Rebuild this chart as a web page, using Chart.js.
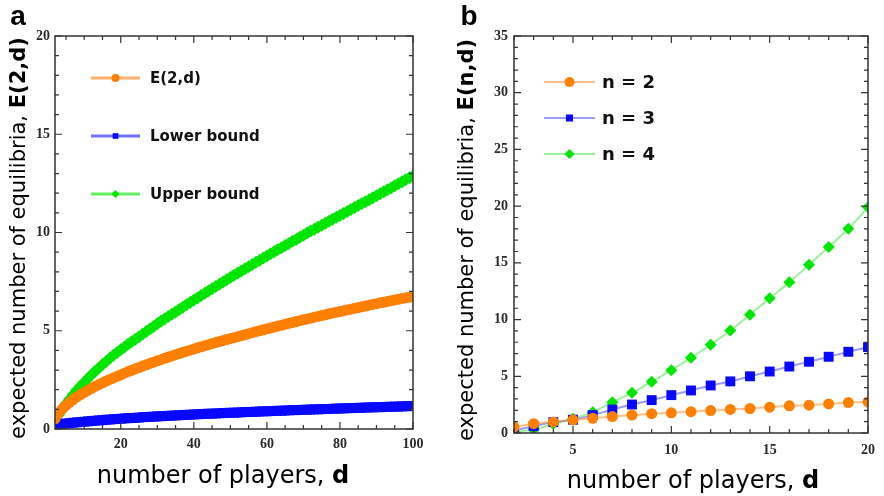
<!DOCTYPE html>
<html>
<head>
<meta charset="utf-8">
<script src="https://cdn.jsdelivr.net/npm/chart.js@4.4.0/dist/chart.umd.min.js"></script>
<style>
    body { margin: 0; background: #fff; }
    #lienzo { position: relative; width: 884px; height: 496px; overflow: hidden; }
    canvas { position: absolute; top: 0; }
    .texto { position: absolute; font-family: 'DejaVu Sans', sans-serif; color: #000; white-space: nowrap; line-height: 1; transform: translate(-50%, -50%); }
    .vertical { transform: translate(-50%, -50%) rotate(-90deg); }
    .letra { font-family: 'Liberation Sans', sans-serif; font-weight: bold; font-size: 28px; }
</style>
</head>
<body>
<div id="lienzo">
    <canvas id="graficoA" width="440" height="496" style="left:0"></canvas>
    <canvas id="graficoB" width="444" height="496" style="left:440px"></canvas>

    <div class="texto letra" style="left:18px; top:16px">a</div>
    <div class="texto letra" style="left:469px; top:16px">b</div>

    <div class="texto vertical" style="left:18px; top:238px; font-size:21px">expected number of equilibria, <b>E(2,d)</b></div>
    <div class="texto vertical" style="left:466px; top:240px; font-size:21px">expected number of equilibria, <b>E(n,d)</b></div>

    <div class="texto" style="left:223px; top:475px; font-size:24px">number of players, <b>d</b></div>
    <div class="texto" style="left:693px; top:480px; font-size:24px">number of players, <b>d</b></div>
</div>

<script>
// =========================================================================
// DATOS PANEL A: E(2,d) y cotas, d = 2..100
// =========================================================================
const jugadoresA = [
    2, 3, 4, 5, 6, 7, 8, 9, 10, 11,
    12, 13, 14, 15, 16, 17, 18, 19, 20, 21,
    22, 23, 24, 25, 26, 27, 28, 29, 30, 31,
    32, 33, 34, 35, 36, 37, 38, 39, 40, 41,
    42, 43, 44, 45, 46, 47, 48, 49, 50, 51,
    52, 53, 54, 55, 56, 57, 58, 59, 60, 61,
    62, 63, 64, 65, 66, 67, 68, 69, 70, 71,
    72, 73, 74, 75, 76, 77, 78, 79, 80, 81,
    82, 83, 84, 85, 86, 87, 88, 89, 90, 91,
    92, 93, 94, 95, 96, 97, 98, 99, 100
];
const valoresE2d = [
    0.52, 0.80, 1.02, 1.20, 1.36, 1.50, 1.63, 1.75, 1.86, 1.97,
    2.07, 2.17, 2.26, 2.35, 2.44, 2.52, 2.60, 2.68, 2.76, 2.84,
    2.92, 2.99, 3.06, 3.13, 3.20, 3.27, 3.34, 3.40, 3.47, 3.53,
    3.60, 3.66, 3.72, 3.78, 3.84, 3.90, 3.96, 4.01, 4.07, 4.13,
    4.18, 4.24, 4.29, 4.35, 4.40, 4.45, 4.50, 4.55, 4.60, 4.65,
    4.70, 4.75, 4.80, 4.85, 4.90, 4.95, 5.00, 5.05, 5.10, 5.14,
    5.19, 5.24, 5.28, 5.33, 5.38, 5.42, 5.47, 5.51, 5.56, 5.60,
    5.64, 5.69, 5.73, 5.77, 5.81, 5.86, 5.90, 5.94, 5.98, 6.02,
    6.06, 6.10, 6.14, 6.18, 6.22, 6.26, 6.30, 6.34, 6.38, 6.42,
    6.45, 6.49, 6.53, 6.57, 6.60, 6.64, 6.68, 6.71, 6.75
];
const cotaInferior = [
    0.20, 0.23, 0.26, 0.28, 0.30, 0.32, 0.34, 0.36, 0.37, 0.39,
    0.41, 0.42, 0.44, 0.45, 0.47, 0.48, 0.50, 0.51, 0.52, 0.54,
    0.55, 0.56, 0.57, 0.58, 0.60, 0.61, 0.62, 0.63, 0.64, 0.65,
    0.66, 0.67, 0.68, 0.69, 0.70, 0.71, 0.72, 0.73, 0.74, 0.75,
    0.76, 0.77, 0.78, 0.78, 0.79, 0.80, 0.81, 0.82, 0.83, 0.83,
    0.84, 0.85, 0.86, 0.87, 0.87, 0.88, 0.89, 0.90, 0.90, 0.91,
    0.92, 0.93, 0.93, 0.94, 0.95, 0.96, 0.96, 0.97, 0.98, 0.98,
    0.99, 1.00, 1.00, 1.01, 1.02, 1.02, 1.03, 1.04, 1.04, 1.05,
    1.06, 1.06, 1.07, 1.08, 1.08, 1.09, 1.10, 1.10, 1.11, 1.11,
    1.12, 1.13, 1.13, 1.14, 1.14, 1.15, 1.16, 1.16, 1.17
];
const cotaSuperior = [
    0.45, 0.72, 1.00, 1.28, 1.52, 1.75, 1.98, 2.19, 2.38, 2.57,
    2.76, 2.94, 3.11, 3.28, 3.44, 3.60, 3.75, 3.89, 4.03, 4.17,
    4.31, 4.44, 4.57, 4.70, 4.83, 4.96, 5.09, 5.22, 5.35, 5.48,
    5.60, 5.72, 5.84, 5.96, 6.08, 6.20, 6.32, 6.44, 6.56, 6.67,
    6.79, 6.91, 7.02, 7.14, 7.25, 7.37, 7.48, 7.60, 7.71, 7.82,
    7.93, 8.04, 8.15, 8.26, 8.37, 8.48, 8.59, 8.70, 8.81, 8.92,
    9.02, 9.13, 9.23, 9.34, 9.44, 9.55, 9.65, 9.76, 9.86, 9.97,
    10.07, 10.17, 10.27, 10.37, 10.47, 10.57, 10.67, 10.77, 10.87, 10.97,
    11.07, 11.17, 11.27, 11.37, 11.47, 11.57, 11.67, 11.77, 11.87, 11.97,
    12.07, 12.17, 12.27, 12.38, 12.48, 12.58, 12.68, 12.78, 12.88
];
const etiquetasA = ['E(2,d)', 'Lower bound', 'Upper bound'];
const ticksXA = [20, 40, 60, 80, 100];
const ticksYA = [0, 5, 10, 15, 20];

// =========================================================================
// DATOS PANEL B: E(n,d) para n = 2, 3, 4, d = 2..20
// =========================================================================
const jugadoresB = [2, 3, 4, 5, 6, 7, 8, 9, 10, 11, 12, 13, 14, 15, 16, 17, 18, 19, 20];
const valoresN2 = [0.52, 0.82, 0.98, 1.15, 1.30, 1.45, 1.58, 1.70, 1.78, 1.88, 1.98, 2.08, 2.16, 2.28, 2.40, 2.45, 2.56, 2.68, 2.74];
const valoresN3 = [0.22, 0.60, 0.96, 1.17, 1.58, 2.07, 2.51, 2.90, 3.34, 3.75, 4.19, 4.55, 5.00, 5.42, 5.86, 6.28, 6.72, 7.16, 7.57];
const valoresN4 = [0.10, 0.30, 0.81, 1.25, 1.84, 2.72, 3.54, 4.51, 5.54, 6.63, 7.78, 9.04, 10.43, 11.87, 13.28, 14.84, 16.40, 18.00, 19.90];
const etiquetasB = ['n = 2', 'n = 3', 'n = 4'];
const ticksXB = [5, 10, 15, 20];
const ticksYB = [0, 5, 10, 15, 20, 25, 30, 35];

// Colores de las series
const NARANJA = '#ff8000';
const AZUL = '#0808ff';
const VERDE = '#00e600';

// Helper: marcas menores entre min y max
const marcasMenores = (min, max, paso, mayores) => {
    const lista = [];
    for (let v = Math.ceil(min / paso) * paso; v <= max; v += paso) {
        if (!mayores.includes(v)) lista.push(v);
    }
    return lista;
};

const puntos = (xs, ys) => xs.map((x, i) => ({ x: x, y: ys[i] }));

// =========================================================================
// PLUGIN: marco con marcas hacia adentro en los 4 lados
// =========================================================================
const marcoConTicks = {
    id: 'marcoConTicks',
    afterDatasetsDraw(chart, args, opts) {
        const { ctx, chartArea: a, scales } = chart;
        ctx.save();
        ctx.strokeStyle = '#333';
        ctx.lineWidth = 1.5;
        ctx.strokeRect(a.left, a.top, a.right - a.left, a.bottom - a.top);
        ctx.lineWidth = 1.2;
        ctx.beginPath();
        const marcar = (eje, valores, largo) => {
            valores.forEach(v => {
                const p = scales[eje].getPixelForValue(v);
                if (eje === 'x') {
                    ctx.moveTo(p, a.bottom); ctx.lineTo(p, a.bottom - largo);
                    ctx.moveTo(p, a.top); ctx.lineTo(p, a.top + largo);
                } else {
                    ctx.moveTo(a.left, p); ctx.lineTo(a.left + largo, p);
                    ctx.moveTo(a.right, p); ctx.lineTo(a.right - largo, p);
                }
            });
        };
        marcar('x', opts.xMayor, 7);
        marcar('x', opts.xMenor, 4);
        marcar('y', opts.yMayor, 7);
        marcar('y', opts.yMenor, 4);
        ctx.stroke();
        ctx.restore();
    }
};

// =========================================================================
// PLUGIN: leyenda dentro del area del grafico
// =========================================================================
const leyendaInterna = {
    id: 'leyendaInterna',
    afterDraw(chart, args, opts) {
        const { ctx, chartArea } = chart;
        ctx.save();
        chart.data.datasets.forEach((ds, i) => {
            const y = chartArea.top + opts.y0 + i * opts.dy;
            const x1 = chartArea.left + opts.x0;
            const x2 = x1 + opts.largo;
            ctx.strokeStyle = ds.lineaLeyenda;
            ctx.lineWidth = opts.grosor;
            ctx.beginPath();
            ctx.moveTo(x1, y);
            ctx.lineTo(x2, y);
            ctx.stroke();
            ctx.fillStyle = ds.pointBackgroundColor;
            Chart.helpers.drawPoint(ctx, { pointStyle: ds.pointStyle, radius: opts.radio, borderWidth: 0, rotation: 0 }, (x1 + x2) / 2, y);
            ctx.fillStyle = '#111';
            ctx.font = opts.fuente;
            ctx.textBaseline = 'middle';
            ctx.fillText(ds.label, x2 + opts.separacion, y + 1);
        });
        ctx.restore();
    }
};

// Opciones comunes de ejes
function ejeLineal(min, max, ticks, ajuste, padding) {
    return {
        type: 'linear',
        min: min,
        max: max,
        afterBuildTicks: (eje) => { eje.ticks = ticks.map(v => ({ value: v })); },
        afterFit: ajuste,
        grid: { display: false, drawTicks: false },
        border: { display: false },
        ticks: {
            autoSkip: false,
            maxRotation: 0,
            padding: padding,
            color: '#2a2a2a',
            font: { family: 'Liberation Serif', weight: 'bold', size: 14 }
        }
    };
}

// =========================================================================
// GRAFICO A
// =========================================================================
function dibujarGraficoA() {
    const ctx = document.getElementById('graficoA').getContext('2d');
    const series = [
        { datos: valoresE2d, color: NARANJA, linea: '#ffb070', estilo: 'circle', radio: 5.5 },
        { datos: cotaInferior, color: AZUL, linea: '#7070ff', estilo: 'rect', radio: 7 },
        { datos: cotaSuperior, color: VERDE, linea: '#60f060', estilo: 'rectRot', radio: 6.5 }
    ];
    new Chart(ctx, {
        type: 'line',
        data: {
            datasets: series.map((s, i) => ({
                label: etiquetasA[i],
                data: puntos(jugadoresA, s.datos),
                borderColor: s.color,
                borderWidth: 2,
                pointStyle: s.estilo,
                pointRadius: s.radio,
                pointBackgroundColor: s.color,
                pointBorderWidth: 0,
                lineaLeyenda: s.linea,
                clip: 0
            }))
        },
        options: {
            responsive: false,
            animation: false,
            events: [],
            layout: { padding: { left: 0, right: 27, top: 36, bottom: 0 } },
            scales: {
                x: ejeLineal(2, 100, ticksXA, s => { s.height = 67; }, 7),
                y: ejeLineal(0, 20, ticksYA, s => { s.width = 55; }, 5)
            },
            plugins: {
                legend: { display: false },
                tooltip: { enabled: false },
                marcoConTicks: {
                    xMayor: ticksXA, xMenor: marcasMenores(2, 100, 5, ticksXA),
                    yMayor: ticksYA, yMenor: marcasMenores(0, 20, 1, ticksYA)
                },
                leyendaInterna: {
                    x0: 36, y0: 42, dy: 58, largo: 49, grosor: 3, radio: 4,
                    separacion: 10, fuente: 'bold 15px "DejaVu Sans"'
                }
            }
        },
        plugins: [marcoConTicks, leyendaInterna]
    });
}

// =========================================================================
// GRAFICO B
// =========================================================================
function dibujarGraficoB() {
    const ctx = document.getElementById('graficoB').getContext('2d');
    const series = [
        { datos: valoresN2, color: NARANJA, linea: 'rgba(255,150,60,0.6)', estilo: 'circle', radio: 5.5 },
        { datos: valoresN3, color: AZUL, linea: 'rgba(90,90,255,0.6)', estilo: 'rect', radio: 7 },
        { datos: valoresN4, color: VERDE, linea: 'rgba(90,230,90,0.6)', estilo: 'rectRot', radio: 6 }
    ];
    new Chart(ctx, {
        type: 'line',
        data: {
            datasets: series.map((s, i) => ({
                label: etiquetasB[i],
                data: puntos(jugadoresB, s.datos),
                borderColor: s.linea,
                borderWidth: 2,
                cubicInterpolationMode: 'monotone',
                pointStyle: s.estilo,
                pointRadius: s.radio,
                pointBackgroundColor: s.color,
                pointBorderWidth: 0,
                lineaLeyenda: s.linea,
                clip: 0
            }))
        },
        options: {
            responsive: false,
            animation: false,
            events: [],
            layout: { padding: { left: 0, right: 10, top: 36, bottom: 0 } },
            scales: {
                x: ejeLineal(2, 20, ticksXB, s => { s.height = 63; }, 9),
                y: ejeLineal(0, 35, ticksYB, s => { s.width = 74; }, 6)
            },
            plugins: {
                legend: { display: false },
                tooltip: { enabled: false },
                marcoConTicks: {
                    xMayor: ticksXB, xMenor: marcasMenores(2, 20, 1, ticksXB),
                    yMayor: ticksYB, yMenor: marcasMenores(0, 35, 1, ticksYB)
                },
                leyendaInterna: {
                    x0: 30, y0: 46, dy: 36, largo: 51, grosor: 2, radio: 5,
                    separacion: 7, fuente: 'bold 18px "DejaVu Sans"'
                }
            }
        },
        plugins: [marcoConTicks, leyendaInterna]
    });
}

dibujarGraficoA();
dibujarGraficoB();
</script>
</body>
</html>
